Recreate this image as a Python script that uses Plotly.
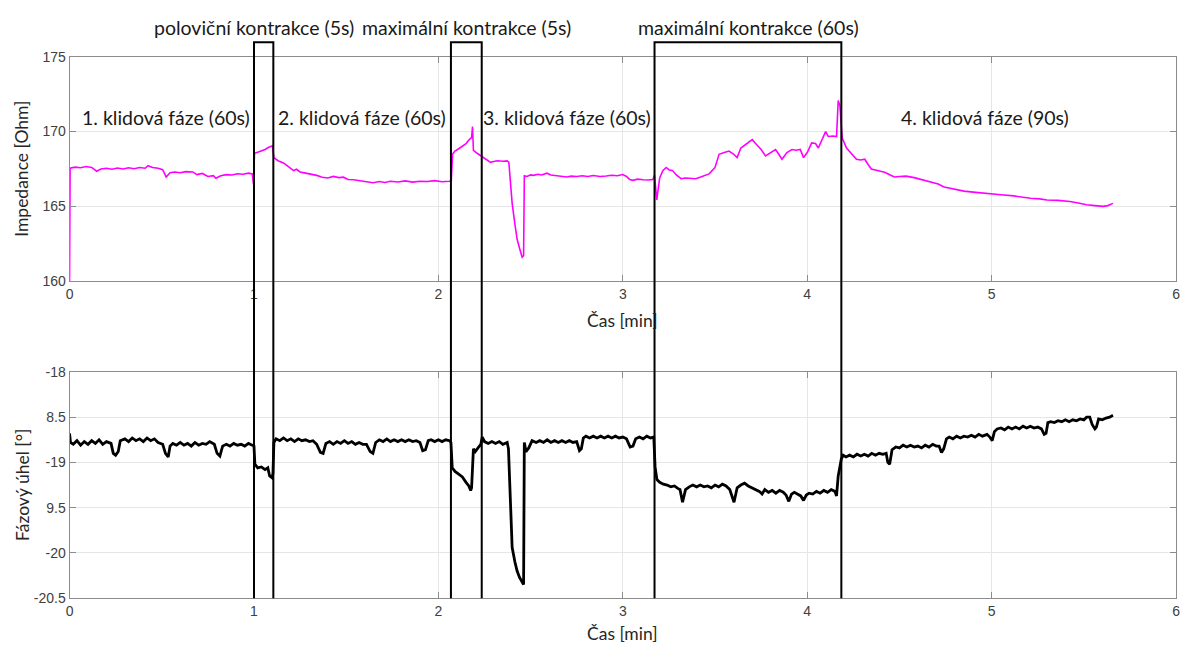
import plotly.graph_objects as go

# Impedance record [Ohm] over time [min]
imp_t = [0.000, 0.003, 0.03, 0.06, 0.09, 0.12, 0.147, 0.17, 0.2, 0.23, 0.26, 0.29, 0.32, 0.35, 0.38, 0.41,
         0.425, 0.45, 0.48, 0.505, 0.524, 0.545, 0.57, 0.6, 0.63, 0.668, 0.69, 0.72, 0.75, 0.78, 0.793,
         0.82, 0.85, 0.88, 0.91, 0.94, 0.97, 0.991, 0.997, 1.003, 1.02, 1.04, 1.06, 1.08, 1.1, 1.108,
         1.13, 1.16, 1.19, 1.215, 1.23, 1.25, 1.28, 1.31, 1.34, 1.37, 1.4, 1.43, 1.46, 1.485, 1.51,
         1.54, 1.57, 1.6, 1.646, 1.68, 1.71, 1.74, 1.78, 1.82, 1.86, 1.9, 1.94, 1.98, 2.02, 2.059,
         2.07, 2.077, 2.09, 2.11, 2.13, 2.15, 2.17, 2.18, 2.185, 2.19, 2.21, 2.23, 2.25, 2.27, 2.283,
         2.3, 2.32, 2.35, 2.373, 2.382, 2.39, 2.4, 2.415, 2.427, 2.44, 2.454, 2.462, 2.466, 2.48, 2.5,
         2.516, 2.54, 2.56, 2.588, 2.61, 2.64, 2.67, 2.696, 2.72, 2.75, 2.78, 2.81, 2.84, 2.876, 2.91,
         2.94, 2.97, 3.0, 3.02, 3.037, 3.055, 3.08, 3.11, 3.14, 3.163, 3.172, 3.184, 3.2, 3.217, 3.235,
         3.25, 3.27, 3.29, 3.316, 3.34, 3.37, 3.396, 3.43, 3.468, 3.5, 3.522, 3.55, 3.576, 3.6, 3.62,
         3.64, 3.67, 3.702, 3.72, 3.75, 3.774, 3.8, 3.828, 3.845, 3.863, 3.89, 3.917, 3.94, 3.962,
         3.98, 4.0, 4.024, 4.045, 4.06, 4.08, 4.1, 4.114, 4.14, 4.159, 4.168, 4.177, 4.19, 4.213,
         4.24, 4.267, 4.29, 4.312, 4.33, 4.348, 4.38, 4.42, 4.45, 4.473, 4.5, 4.536, 4.58, 4.62, 4.67,
         4.71, 4.742, 4.79, 4.85, 4.9, 4.95, 4.993, 5.05, 5.12, 5.16, 5.21, 5.26, 5.3, 5.36, 5.425,
         5.47, 5.514, 5.56, 5.604, 5.63, 5.658]
imp_v = [160.0, 167.55, 167.62, 167.58, 167.66, 167.6, 167.35, 167.5, 167.55, 167.48, 167.56, 167.5, 167.58,
         167.52, 167.6, 167.55, 167.72, 167.6, 167.55, 167.45, 166.96, 167.25, 167.3, 167.25, 167.32, 167.3,
         167.12, 167.2, 167.0, 167.05, 166.88, 167.05, 167.12, 167.1, 167.18, 167.15, 167.22, 167.17, 166.5,
         168.55, 168.62, 168.7, 168.8, 168.95, 169.05, 168.26, 168.05, 167.9, 167.6, 167.39, 167.48, 167.3,
         167.22, 167.15, 167.07, 166.95, 166.9, 167.0, 166.92, 166.95, 166.8, 166.78, 166.72, 166.65, 166.58,
         166.66, 166.6, 166.68, 166.63, 166.7, 166.62, 166.68, 166.66, 166.72, 166.65, 166.68, 166.7, 168.5,
         168.7, 168.85, 169.0, 169.2, 169.5, 169.6, 170.33, 168.75, 168.55, 168.37, 168.2, 168.05, 167.94,
         168.0, 168.05, 168.02, 168.04, 167.95, 166.6, 165.2, 163.8, 162.8, 162.2, 161.6, 161.7, 167.05,
         167.0, 167.1, 167.07, 167.15, 167.1, 167.22, 167.1, 167.05, 167.0, 166.96, 167.02, 167.0, 167.05,
         167.0, 167.06, 167.0, 167.03, 167.08, 167.05, 167.13, 167.0, 166.8, 166.74, 166.82, 166.78, 166.76,
         166.8, 167.1, 165.43, 166.9, 167.39, 167.6, 167.45, 167.39, 167.1, 166.85, 166.9, 166.88, 166.85,
         167.0, 167.17, 167.6, 168.48, 168.6, 168.7, 168.5, 168.26, 168.9, 169.2, 169.46, 169.2, 168.8,
         168.37, 168.6, 168.8, 168.5, 168.15, 168.6, 168.8, 168.75, 168.8, 168.26, 168.6, 169.24, 169.2,
         168.9, 169.4, 170.0, 169.67, 169.7, 169.67, 172.07, 171.74, 169.56, 168.9, 168.5, 168.15, 168.1,
         168.15, 167.8, 167.5, 167.4, 167.28, 167.1, 166.96, 167.0, 167.02, 166.92, 166.8, 166.63, 166.5,
         166.3, 166.18, 166.02, 165.95, 165.88, 165.83, 165.78, 165.7, 165.62, 165.54, 165.5, 165.43, 165.4,
         165.33, 165.22, 165.11, 165.05, 165.0, 165.05, 165.2]

# Phase angle record [deg] over time [min]
faze_t = [0.000, 0.005, 0.02, 0.04, 0.06, 0.08, 0.10, 0.12, 0.14, 0.16, 0.18, 0.20, 0.225, 0.237, 0.25, 0.264,
          0.275, 0.30, 0.32, 0.34, 0.36, 0.38, 0.40, 0.42, 0.44, 0.46, 0.48, 0.505, 0.52, 0.535, 0.545,
          0.56, 0.58, 0.60, 0.62, 0.64, 0.66, 0.68, 0.70, 0.72, 0.74, 0.76, 0.785, 0.80, 0.815, 0.83,
          0.85, 0.87, 0.89, 0.91, 0.93, 0.95, 0.97, 0.99, 1.0, 1.005, 1.02, 1.04, 1.06, 1.075, 1.085,
          1.098, 1.103, 1.108, 1.12, 1.14, 1.16, 1.18, 1.20, 1.22, 1.24, 1.26, 1.28, 1.30, 1.32, 1.34,
          1.36, 1.375, 1.39, 1.41, 1.43, 1.45, 1.47, 1.49, 1.51, 1.53, 1.55, 1.57, 1.59, 1.61, 1.63,
          1.645, 1.66, 1.68, 1.70, 1.72, 1.74, 1.76, 1.78, 1.80, 1.82, 1.84, 1.86, 1.88, 1.90, 1.915,
          1.93, 1.945, 1.96, 1.98, 2.00, 2.02, 2.04, 2.06, 2.068, 2.075, 2.09, 2.11, 2.13, 2.15, 2.165,
          2.175, 2.18, 2.19, 2.20, 2.215, 2.23, 2.238, 2.25, 2.27, 2.29, 2.31, 2.33, 2.35, 2.373, 2.38,
          2.39, 2.40, 2.415, 2.427, 2.44, 2.455, 2.462, 2.466, 2.475, 2.49, 2.508, 2.53, 2.55, 2.57,
          2.59, 2.61, 2.63, 2.65, 2.67, 2.69, 2.71, 2.73, 2.75, 2.765, 2.775, 2.786, 2.80, 2.82, 2.84,
          2.86, 2.88, 2.90, 2.92, 2.94, 2.96, 2.98, 3.00, 3.02, 3.04, 3.055, 3.07, 3.09, 3.11, 3.13,
          3.15, 3.168, 3.175, 3.185, 3.20, 3.22, 3.24, 3.26, 3.28, 3.30, 3.31, 3.324, 3.34, 3.36, 3.38,
          3.40, 3.42, 3.44, 3.46, 3.48, 3.50, 3.52, 3.54, 3.56, 3.58, 3.603, 3.62, 3.64, 3.66, 3.68,
          3.70, 3.72, 3.74, 3.755, 3.77, 3.79, 3.81, 3.83, 3.85, 3.87, 3.885, 3.90, 3.915, 3.93, 3.95,
          3.965, 3.98, 3.995, 4.01, 4.03, 4.05, 4.07, 4.09, 4.11, 4.13, 4.15, 4.159, 4.168, 4.177,
          4.185, 4.195, 4.21, 4.23, 4.25, 4.27, 4.29, 4.31, 4.33, 4.35, 4.37, 4.39, 4.41, 4.428, 4.437,
          4.447, 4.46, 4.48, 4.50, 4.52, 4.54, 4.56, 4.58, 4.60, 4.62, 4.64, 4.66, 4.68, 4.70, 4.715,
          4.728, 4.74, 4.755, 4.77, 4.79, 4.81, 4.83, 4.85, 4.87, 4.89, 4.91, 4.93, 4.95, 4.975, 4.99,
          5.003, 5.015, 5.03, 5.05, 5.07, 5.09, 5.11, 5.13, 5.15, 5.17, 5.19, 5.21, 5.23, 5.25, 5.27,
          5.285, 5.295, 5.305, 5.32, 5.34, 5.36, 5.38, 5.40, 5.42, 5.44, 5.46, 5.48, 5.50, 5.515, 5.532,
          5.545, 5.56, 5.568, 5.58, 5.60, 5.62, 5.64, 5.658]
faze_v = [-18.68, -18.78, -18.80, -18.76, -18.81, -18.77, -18.80, -18.76, -18.79, -18.75, -18.80, -18.77,
          -18.79, -18.90, -18.92, -18.88, -18.76, -18.74, -18.77, -18.73, -18.76, -18.74, -18.77, -18.73,
          -18.76, -18.74, -18.78, -18.80, -18.90, -18.94, -18.82, -18.79, -18.81, -18.78, -18.81, -18.79,
          -18.82, -18.78, -18.81, -18.79, -18.80, -18.77, -18.80, -18.90, -18.93, -18.82, -18.80, -18.82,
          -18.79, -18.81, -18.80, -18.82, -18.79, -18.81, -18.82, -19.02, -19.06, -19.05, -19.08, -19.06,
          -19.15, -19.17, -19.12, -18.78, -18.74, -18.76, -18.73, -18.76, -18.74, -18.77, -18.74, -18.76,
          -18.75, -18.77, -18.76, -18.80, -18.89, -18.90, -18.79, -18.77, -18.80, -18.77, -18.79, -18.76,
          -18.79, -18.77, -18.80, -18.78, -18.80, -18.80, -18.88, -18.90, -18.78, -18.75, -18.77, -18.74,
          -18.77, -18.75, -18.77, -18.75, -18.77, -18.75, -18.77, -18.76, -18.78, -18.87, -18.86, -18.76,
          -18.75, -18.77, -18.75, -18.77, -18.75, -18.76, -18.78, -19.06, -19.10, -19.13, -19.16, -19.22,
          -19.26, -19.31, -19.28, -18.85, -18.88, -18.84, -18.80, -18.72, -18.77, -18.79, -18.77, -18.79,
          -18.77, -18.80, -18.78, -18.85, -19.40, -19.94, -20.10, -20.20, -20.27, -20.32, -20.35, -18.78,
          -18.88, -18.84, -18.76, -18.78, -18.76, -18.78, -18.75, -18.78, -18.76, -18.78, -18.76, -18.78,
          -18.76, -18.78, -18.77, -18.87, -18.85, -18.73, -18.71, -18.73, -18.71, -18.73, -18.71, -18.73,
          -18.71, -18.73, -18.71, -18.73, -18.72, -18.74, -18.83, -18.82, -18.74, -18.72, -18.74, -18.71,
          -18.73, -18.72, -19.05, -19.19, -19.22, -19.24, -19.25, -19.27, -19.26, -19.29, -19.30, -19.44,
          -19.30, -19.27, -19.25, -19.27, -19.25, -19.27, -19.26, -19.28, -19.25, -19.27, -19.24, -19.26,
          -19.30, -19.44, -19.28, -19.25, -19.23, -19.26, -19.28, -19.30, -19.32, -19.35, -19.30, -19.33,
          -19.31, -19.34, -19.31, -19.33, -19.36, -19.43, -19.35, -19.33, -19.35, -19.37, -19.42, -19.36,
          -19.34, -19.35, -19.32, -19.34, -19.31, -19.33, -19.30, -19.32, -19.37, -19.15, -19.05, -18.96,
          -18.92, -18.94, -18.92, -18.94, -18.91, -18.93, -18.91, -18.93, -18.90, -18.92, -18.90, -18.91,
          -18.90, -19.00, -19.02, -18.86, -18.83, -18.84, -18.81, -18.83, -18.81, -18.83, -18.82, -18.84,
          -18.81, -18.83, -18.80, -18.82, -18.82, -18.89, -18.85, -18.74, -18.72, -18.74, -18.71, -18.73,
          -18.71, -18.72, -18.70, -18.72, -18.69, -18.71, -18.69, -18.72, -18.76, -18.66, -18.63, -18.62,
          -18.64, -18.61, -18.63, -18.61, -18.63, -18.60, -18.62, -18.60, -18.62, -18.61, -18.63, -18.69,
          -18.68, -18.56, -18.55, -18.56, -18.54, -18.55, -18.53, -18.55, -18.53, -18.54, -18.52, -18.53,
          -18.50, -18.50, -18.58, -18.63, -18.61, -18.52, -18.53, -18.51, -18.50, -18.48]

# Contraction intervals [min] and their labels
kontrakce_od = [1.0, 2.068, 3.172]
kontrakce_do = [1.105, 2.235, 4.185]
kontrakce_popis = ["poloviční kontrakce (5s)", "maximální kontrakce (5s)", "maximální kontrakce (60s)"]
kontrakce_popis_x = [1.0, 2.15, 3.68]

# Rest phase labels
klid_popis = ["1. klidová fáze (60s)", "2. klidová fáze (60s)", "3. klidová fáze (60s)", "4. klidová fáze (90s)"]
klid_x = [0.525, 1.586, 2.70, 4.963]

x_ticks = [0, 1, 2, 3, 4, 5, 6]
imp_ticks = [160, 165, 170, 175]
faze_ticks = [-18, -18.5, -19, -19.5, -20, -20.5]
faze_ticktext = ["-18", "8.5", "-19", "9.5", "-20", "-20.5"]

W, H = 1189, 654
def py(p):
    return 1 - p / H

x_dom = [66 / W, 1180 / W]
top_dom = [py(280), py(50)]
bot_dom = [py(605), py(373)]

fig = go.Figure()
fig.add_trace(go.Scatter(x=imp_t, y=imp_v, mode="lines", xaxis="x", yaxis="y",
                         line=dict(color="#ff00ff", width=1.6), showlegend=False))
fig.add_trace(go.Scatter(x=faze_t, y=faze_v, mode="lines", xaxis="x2", yaxis="y2",
                         line=dict(color="#000000", width=2.8), showlegend=False))

tick_font = dict(family="Liberation Sans, Arial, sans-serif", size=14, color="#404040")
axis_common = dict(showline=True, linecolor="#8c8c8c", linewidth=1, mirror="ticks",
                   ticks="inside", ticklen=6, tickcolor="#8c8c8c", showgrid=True,
                   gridcolor="#e6e6e6", gridwidth=1, zeroline=False, tickfont=tick_font)

fig.update_layout(
    width=W, height=H,
    margin=dict(l=0, r=0, t=0, b=0),
    paper_bgcolor="white", plot_bgcolor="white",
    xaxis=dict(domain=x_dom, anchor="y", range=[0, 6], tickvals=x_ticks, **axis_common),
    yaxis=dict(domain=top_dom, anchor="x", range=[160, 175], tickvals=imp_ticks, **axis_common),
    xaxis2=dict(domain=x_dom, anchor="y2", range=[0, 6], tickvals=x_ticks, **axis_common),
    yaxis2=dict(domain=bot_dom, anchor="x2", range=[-20.5, -18], tickvals=faze_ticks,
                ticktext=faze_ticktext, **axis_common),
)

label_font = dict(family="Lato, sans-serif", size=19.5, color="#1a1a1a")
title_font = dict(family="Lato, sans-serif", size=17.5, color="#262626")

# Contraction boxes spanning both panels (open at the bottom)
for a, b in zip(kontrakce_od, kontrakce_do):
    fig.add_shape(type="path", xref="x", yref="paper",
                  path=f"M {a},{py(605)} L {a},{py(35)} L {b},{py(35)} L {b},{py(605)}",
                  line=dict(color="black", width=2))

for txt, x in zip(kontrakce_popis, kontrakce_popis_x):
    fig.add_annotation(x=x, xref="x", y=py(20), yref="paper", text=txt, showarrow=False,
                       font=label_font, xanchor="center", yanchor="middle")

for txt, x in zip(klid_popis, klid_x):
    fig.add_annotation(x=x, xref="x", y=py(112), yref="paper", text=txt, showarrow=False,
                       font=label_font, xanchor="center", yanchor="middle")

# Axis titles
fig.add_annotation(x=3, xref="x", y=py(320), yref="paper", text="Čas [min]", showarrow=False,
                   font=title_font, xanchor="center", yanchor="middle")
fig.add_annotation(x=3, xref="x", y=py(641), yref="paper", text="Čas [min]", showarrow=False,
                   font=title_font, xanchor="center", yanchor="middle")
fig.add_annotation(x=18 / W, xref="paper", y=py(165), yref="paper", text="Impedance [Ohm]",
                   showarrow=False, textangle=-90, font=title_font, xanchor="center", yanchor="middle")
fig.add_annotation(x=18 / W, xref="paper", y=py(489), yref="paper", text="Fázový úhel [°]",
                   showarrow=False, textangle=-90, font=title_font, xanchor="center", yanchor="middle")

fig.write_html("out.html")
